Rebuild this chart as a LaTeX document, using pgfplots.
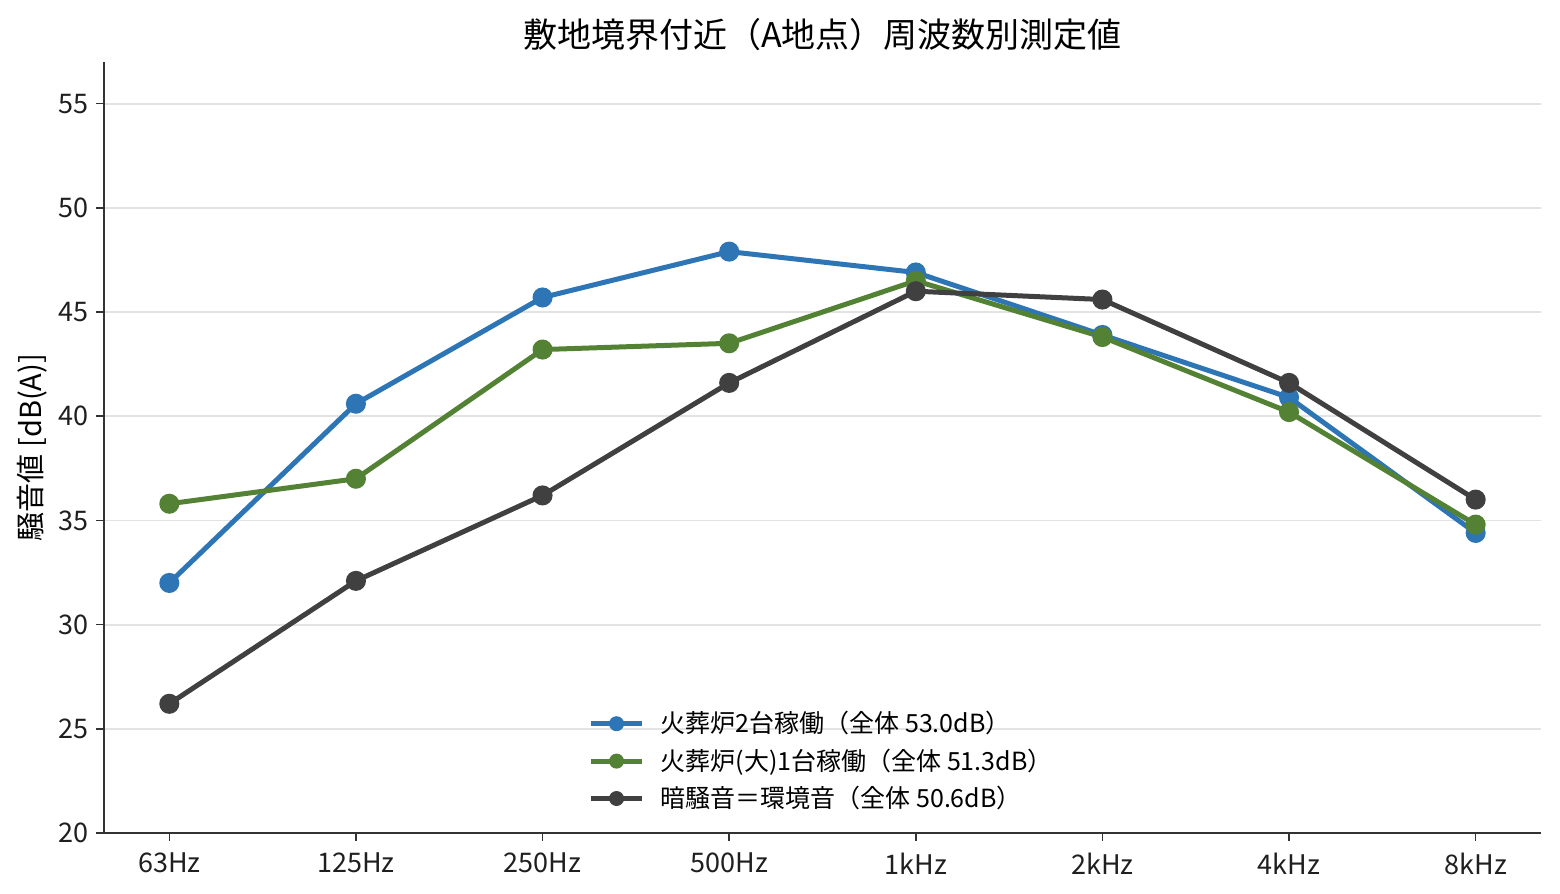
\documentclass[border=0pt]{standalone}
\usepackage{fontspec}
\setmainfont{Noto Sans CJK JP}
\usepackage{pgfplots}
\pgfplotsset{compat=1.18}
\definecolor{cblue}{HTML}{2E75B6}
\definecolor{cgreen}{HTML}{548235}
\definecolor{cdark}{HTML}{404040}
\definecolor{cgrid}{HTML}{E3E3E3}
\begin{document}
\begin{tikzpicture}
\useasboundingbox (-52pt,-30.5pt) rectangle (728pt,416.5pt);
\begin{axis}[
  at={(0,0)}, anchor=south west,
  scale only axis, width=718.5pt, height=385.5pt,
  xmin=-0.35, xmax=7.35, ymin=20, ymax=57,
  xtick={0,1,2,3,4,5,6,7},
  xticklabels={63Hz,125Hz,250Hz,500Hz,1kHz,2kHz,4kHz,8kHz},
  ytick={20,25,30,35,40,45,50,55},
  /pgf/number format/assume math mode=true,
  ticklabel style={font=\fontsize{13.5}{16}\selectfont, text=black!88},
  xticklabel style={yshift=-2.5pt},
  axis x line*=bottom, axis y line*=left,
  axis line style={black!80, line width=0.8pt},
  tick style={black!80, line width=0.8pt},
  tick align=outside, major tick length=4pt,
  ymajorgrids, grid style={cgrid, line width=0.9pt},
  ylabel={騒音値 [dB(A)]},
  ylabel style={font=\fontsize{14.5}{17}\selectfont, yshift=-1pt},
  title={敷地境界付近（A地点）周波数別測定値},
  title style={font=\fontsize{17}{20}\selectfont, yshift=-4pt},
  legend style={at={(0.5,0.018)}, anchor=south, xshift=3pt, draw=none, fill=none,
    font=\fontsize{12.5}{15}\selectfont, row sep=2.5pt, nodes={inner xsep=8pt}},
  legend cell align=left,
  legend image code/.code={\draw[#1, line width=2.5pt] (0cm,0cm) -- (0.9cm,0cm); \fill[#1, draw=none] (0.45cm,0cm) circle (3.75pt);},
]
\addplot[cblue, line width=2.5pt, mark=*, mark size=3.75pt, mark options={solid}] coordinates {
(0,32.0) (1,40.6) (2,45.7) (3,47.9) (4,46.9) (5,43.9) (6,40.9) (7,34.4)};
\addlegendentry{火葬炉2台稼働（全体 53.0dB）}
\addplot[cgreen, line width=2.5pt, mark=*, mark size=3.75pt, mark options={solid}] coordinates {
(0,35.8) (1,37.0) (2,43.2) (3,43.5) (4,46.5) (5,43.8) (6,40.2) (7,34.8)};
\addlegendentry{火葬炉(大)1台稼働（全体 51.3dB）}
\addplot[cdark, line width=2.5pt, mark=*, mark size=3.75pt, mark options={solid}] coordinates {
(0,26.2) (1,32.1) (2,36.2) (3,41.6) (4,46.0) (5,45.6) (6,41.6) (7,36.0)};
\addlegendentry{暗騒音＝環境音（全体 50.6dB）}
\end{axis}
\end{tikzpicture}
\end{document}
